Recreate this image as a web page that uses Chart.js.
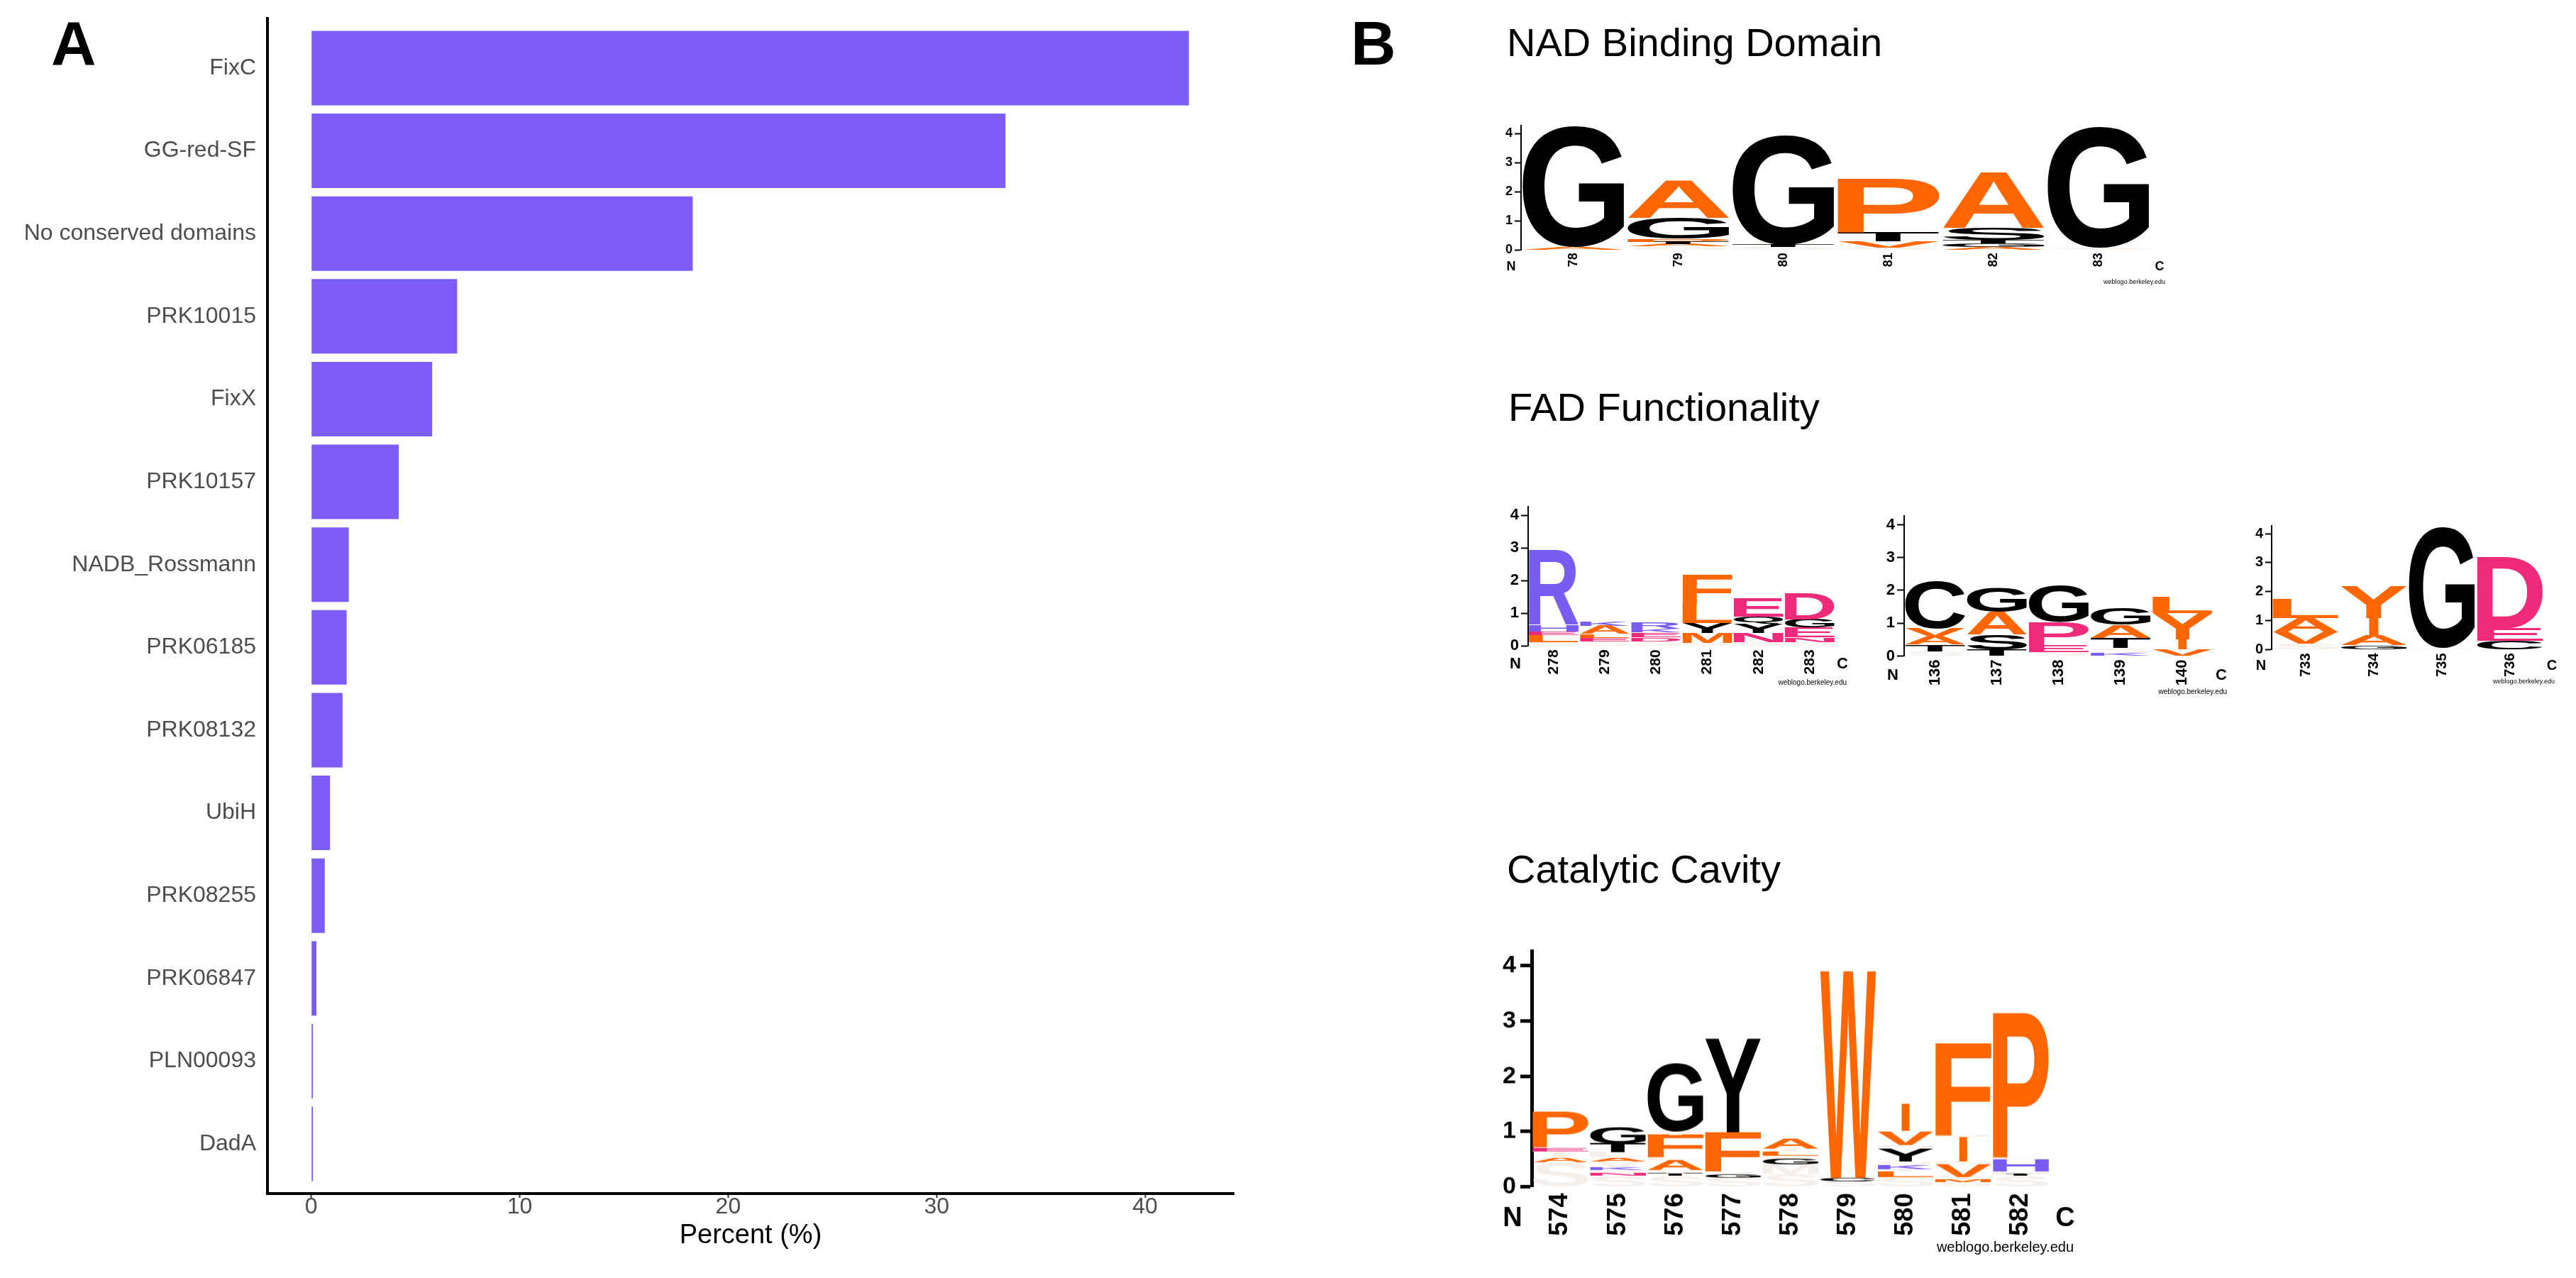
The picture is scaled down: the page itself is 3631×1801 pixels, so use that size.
<!DOCTYPE html>
<html>
<head>
<meta charset="utf-8">
<script src="https://cdn.jsdelivr.net/npm/chart.js@4.4.1/dist/chart.umd.min.js"></script>
<style>
  html, body { margin: 0; padding: 0; background: #fff; }
  body { width: 3631px; height: 1801px; position: relative; overflow: hidden;
         font-family: "Liberation Sans", Arial, sans-serif; }
  .box { position: absolute; }
  .txt { position: absolute; white-space: nowrap; line-height: 1; color: #000; }
  .panel { font-weight: bold; font-size: 88px; }
  .title { font-size: 56px; }
</style>
</head>
<body>
<div class="txt panel" style="left:72px;top:17px;">A</div>
<div class="txt panel" style="left:1904px;top:17px;">B</div>
<div class="txt title" style="left:2124px;top:32px;">NAD Binding Domain</div>
<div class="txt title" style="left:2126px;top:546px;">FAD Functionality</div>
<div class="txt title" style="left:2124px;top:1197px;">Catalytic Cavity</div>

<div class="box" style="left:0;top:0;width:1790px;height:1801px;"><canvas id="bars"></canvas></div>
<div class="box" id="wNad"><canvas id="logoNad"></canvas></div>
<div class="box" id="wFadA"><canvas id="logoFadA"></canvas></div>
<div class="box" id="wFadB"><canvas id="logoFadB"></canvas></div>
<div class="box" id="wFadC"><canvas id="logoFadC"></canvas></div>
<div class="box" id="wCat"><canvas id="logoCat"></canvas></div>

<script>
// ---- panel A data ----
const domains = ['FixC', 'GG-red-SF', 'No conserved domains', 'PRK10015', 'FixX', 'PRK10157',
  'NADB_Rossmann', 'PRK06185', 'PRK08132', 'UbiH', 'PRK08255', 'PRK06847', 'PLN00093', 'DadA'];
const percent = [42.1, 33.3, 18.3, 7.0, 5.8, 4.2, 1.8, 1.7, 1.5, 0.9, 0.65, 0.25, 0.08, 0.08];
const percentTicks = [0, 10, 20, 30, 40];

// ---- panel B data: per column, letters bottom -> top as [residue, bits, group] ----
// group 'fa' = rare residues that print as faint slivers
const bitTicks = [0, 1, 2, 3, 4];

const nadPositions = ['78', '79', '80', '81', '82', '83'];
const nadColumns = [
  [['A', 0.1, 'hy'], ['G', 4.15, 'po']],
  [['S', 0.12, 'fa'], ['A', 0.08, 'hy'], ['T', 0.08, 'po'], ['P', 0.1, 'hy'], ['G', 0.72, 'po'], ['A', 1.3, 'hy']],
  [['S', 0.1, 'fa'], ['T', 0.08, 'po'], ['G', 3.75, 'po']],
  [['S', 0.08, 'fa'], ['V', 0.22, 'hy'], ['T', 0.3, 'po'], ['P', 1.85, 'hy']],
  [['A', 0.1, 'hy'], ['G', 0.12, 'po'], ['T', 0.12, 'po'], ['S', 0.4, 'po'], ['A', 1.9, 'hy']],
  [['S', 0.06, 'fa'], ['G', 4.15, 'po']]
];

const fadAPositions = ['278', '279', '280', '281', '282', '283'];
const fadAColumns = [
  [['S', 0.12, 'fa'], ['L', 0.22, 'hy'], ['E', 0.1, 'ac'], ['H', 0.2, 'ba'], ['R', 2.3, 'ba']],
  [['S', 0.15, 'fa'], ['E', 0.1, 'ac'], ['L', 0.12, 'hy'], ['A', 0.25, 'hy'], ['K', 0.15, 'ba']],
  [['S', 0.15, 'fa'], ['D', 0.12, 'ac'], ['E', 0.15, 'ac'], ['K', 0.12, 'ba'], ['R', 0.18, 'ba']],
  [['S', 0.1, 'fa'], ['M', 0.3, 'hy'], ['Y', 0.3, 'po'], ['L', 0.6, 'hy'], ['F', 0.9, 'hy']],
  [['S', 0.12, 'fa'], ['N', 0.28, 'ac'], ['Y', 0.28, 'po'], ['Q', 0.22, 'po'], ['E', 0.55, 'ac']],
  [['S', 0.12, 'fa'], ['N', 0.15, 'ac'], ['E', 0.3, 'ac'], ['G', 0.25, 'po'], ['D', 0.8, 'ac']]
];

const fadBPositions = ['136', '137', '138', '139', '140'];
const fadBColumns = [
  [['S', 0.15, 'fa'], ['T', 0.2, 'po'], ['A', 0.24, 'hy'], ['V', 0.25, 'hy'], ['C', 1.44, 'po']],
  [['T', 0.2, 'po'], ['S', 0.45, 'po'], ['A', 0.7, 'hy'], ['G', 0.75, 'po']],
  [['S', 0.12, 'fa'], ['E', 0.22, 'ac'], ['P', 0.7, 'ac'], ['G', 1.1, 'po']],
  [['K', 0.1, 'ba'], ['S', 0.15, 'fa'], ['T', 0.3, 'po'], ['A', 0.4, 'hy'], ['G', 0.5, 'po']],
  [['V', 0.2, 'hy'], ['I', 0.3, 'hy'], ['Y', 0.8, 'hy'], ['L', 0.5, 'hy']]
];

const fadCPositions = ['733', '734', '735', '736'];
const fadCColumns = [
  [['S', 0.2, 'fa'], ['V', 0.4, 'hy'], ['A', 0.5, 'hy'], ['L', 0.65, 'hy']],
  [['G', 0.15, 'po'], ['A', 0.35, 'hy'], ['I', 0.6, 'hy'], ['Y', 1.1, 'hy']],
  [['S', 0.05, 'fa'], ['G', 4.15, 'po']],
  [['C', 0.3, 'po'], ['E', 0.45, 'ac'], ['D', 2.45, 'ac']]
];

const catPositions = ['574', '575', '576', '577', '578', '579', '580', '581', '582'];
const catColumns = [
  [['S', 0.44, 'fa'], ['A', 0.09, 'hy'], ['T', 0.11, 'fa'], ['E', 0.07, 'ac'], ['P', 0.65, 'hy']],
  [['S', 0.2, 'fa'], ['N', 0.05, 'ac'], ['Q', 0.05, 'fa'], ['K', 0.05, 'ba'], ['V', 0.11, 'fa'],
   ['A', 0.07, 'hy'], ['L', 0.09, 'fa'], ['T', 0.16, 'po'], ['G', 0.3, 'po']],
  [['S', 0.2, 'fa'], ['T', 0.04, 'po'], ['V', 0.06, 'fa'], ['A', 0.18, 'hy'], ['L', 0.05, 'fa'],
   ['F', 0.41, 'hy'], ['Y', 0.05, 'fa'], ['G', 1.24, 'po']],
  [['S', 0.16, 'fa'], ['G', 0.07, 'po'], ['V', 0.05, 'fa'], ['F', 0.71, 'hy'], ['Y', 1.7, 'po']],
  [['S', 0.23, 'fa'], ['M', 0.18, 'fa'], ['G', 0.1, 'po'], ['V', 0.05, 'fa'], ['L', 0.08, 'hy'],
   ['T', 0.05, 'fa'], ['A', 0.18, 'hy']],
  [['S', 0.1, 'fa'], ['C', 0.06, 'po'], ['W', 3.75, 'hy']],
  [['S', 0.18, 'fa'], ['L', 0.1, 'hy'], ['T', 0.04, 'fa'], ['K', 0.09, 'ba'], ['Q', 0.05, 'fa'],
   ['Y', 0.23, 'po'], ['N', 0.07, 'fa'], ['V', 0.25, 'hy'], ['I', 0.5, 'hy']],
  [['S', 0.09, 'fa'], ['M', 0.05, 'hy'], ['T', 0.04, 'fa'], ['V', 0.23, 'hy'], ['N', 0.05, 'fa'],
   ['I', 0.44, 'hy'], ['Q', 0.04, 'fa'], ['F', 1.68, 'hy']],
  [['S', 0.2, 'fa'], ['T', 0.03, 'po'], ['N', 0.05, 'fa'], ['H', 0.22, 'ba'], ['Q', 0.03, 'fa'], ['P', 2.64, 'hy']]
];

// ---- styles ----
const FONT = '"Liberation Sans", Arial, sans-serif';
const groupColors = { hy: '#ff6600', po: '#000000', ba: '#7b5cf0', ac: '#ee2a7b', fa: '#f6efe9' };
Chart.defaults.font.family = FONT;
Chart.defaults.animation = false;
Chart.defaults.plugins.legend.display = false;
Chart.defaults.plugins.tooltip.enabled = false;

// ---- panel A ----
new Chart(document.getElementById('bars'), {
  type: 'bar',
  data: {
    datasets: [{
      data: domains.map((d, i) => ({ x: percent[i], y: i })),
      backgroundColor: '#7c5cf4',
      borderWidth: 0,
      categoryPercentage: 1,
      barPercentage: 0.9
    }]
  },
  options: {
    indexAxis: 'y',
    responsive: true,
    maintainAspectRatio: false,
    layout: { padding: { top: 26, right: 51, left: 0, bottom: 0 } },
    scales: {
      y: {
        type: 'linear', reverse: true, min: -0.6, max: 13.6, offset: false,
        afterBuildTicks: s => { s.ticks = domains.map((d, i) => ({ value: i })); },
        afterFit: s => { s.width = 377; s.paddingTop = 0; s.paddingBottom = 0; },
        ticks: { callback: v => domains[v], color: '#4d4d4d', font: { size: 32 }, padding: 16, autoSkip: false },
        grid: { offset: false, drawOnChartArea: false, drawTicks: false },
        border: { color: '#000', width: 4 }
      },
      x: {
        type: 'linear', min: -2.1, max: 44.25,
        afterBuildTicks: s => { s.ticks = percentTicks.map(v => ({ value: v })); },
        afterFit: s => { s.height = 119; s.paddingLeft = 0; s.paddingRight = 0; },
        ticks: { color: '#4d4d4d', font: { size: 32, lineHeight: 1 }, padding: -3 },
        grid: { drawOnChartArea: false, drawTicks: true, tickLength: 6, tickColor: '#333', tickWidth: 2 },
        border: { color: '#000', width: 4 },
        title: { display: true, text: 'Percent (%)', color: '#000', font: { size: 38 }, padding: { top: 0, bottom: 37 } }
      }
    }
  }
});

// ---- panel B: sequence logos drawn from stacked bars ----
const glyphCache = {};
function glyphBox(ctx, ch) {
  if (!glyphCache[ch]) {
    ctx.font = 'bold 200px ' + FONT;
    const m = ctx.measureText(ch);
    glyphCache[ch] = { l: m.actualBoundingBoxLeft, r: m.actualBoundingBoxRight,
                       a: m.actualBoundingBoxAscent, d: m.actualBoundingBoxDescent };
  }
  return glyphCache[ch];
}

const letterPlugin = {
  id: 'letters',
  afterDatasetsDraw(chart) {
    const ctx = chart.ctx;
    chart.data.datasets.forEach((ds, k) => {
      chart.getDatasetMeta(k).data.forEach((bar, j) => {
        const ch = ds.letters[j];
        if (!ch) return;
        const p = bar.getProps(['x', 'y', 'base', 'width'], true);
        const h = Math.abs(p.base - p.y);
        if (h < 0.3) return;
        const g = glyphBox(ctx, ch);
        const frac = ch === 'I' ? 0.14 : 0.97;
        const w = p.width * frac;
        ctx.save();
        ctx.font = 'bold 200px ' + FONT;
        ctx.fillStyle = groupColors[ds.groups[j]];
        ctx.translate(p.x - w / 2, Math.min(p.y, p.base));
        ctx.scale(w / (g.l + g.r), h / (g.a + g.d));
        ctx.textAlign = 'left';
        ctx.textBaseline = 'alphabetic';
        ctx.fillText(ch, g.l, g.a);
        ctx.restore();
      });
    });
  },
  afterDraw(chart) {
    const L = chart.options.plugins.letters;
    const a = chart.chartArea;
    const ctx = chart.ctx;
    ctx.save();
    ctx.fillStyle = '#000';
    ctx.textAlign = 'center';
    ctx.textBaseline = 'middle';
    ctx.font = 'bold ' + L.ncFont + 'px ' + FONT;
    ctx.fillText('N', a.left + L.dxN, a.bottom + L.ncDy);
    ctx.fillText('C', a.right + L.dxC, a.bottom + L.ncDy);
    ctx.font = L.creditFont + 'px ' + FONT;
    ctx.textAlign = 'right';
    ctx.fillText('weblogo.berkeley.edu', a.right + L.creditDx, a.bottom + L.creditDy);
    ctx.restore();
  }
};

function makeLogo(wrapId, canvasId, positions, columns, L) {
  const unit = (L.zero - L.y4) / 4;
  const ymax = 4.27;
  const top = L.zero - ymax * unit;
  const padTop = 30;
  const x0 = L.left - L.axisBox;
  const y0 = top - padTop;
  const wrap = document.getElementById(wrapId);
  wrap.style.left = x0 + 'px';
  wrap.style.top = y0 + 'px';
  wrap.style.width = (L.right - x0 + L.padR) + 'px';
  wrap.style.height = (L.zero - y0 + L.xBox) + 'px';

  const depth = Math.max(...columns.map(c => c.length));
  const datasets = [];
  for (let k = 0; k < depth; k++) {
    datasets.push({
      data: columns.map(c => (c[k] ? c[k][1] : 0)),
      letters: columns.map(c => (c[k] ? c[k][0] : '')),
      groups: columns.map(c => (c[k] ? c[k][2] : '')),
      backgroundColor: 'rgba(0,0,0,0)',
      borderWidth: 0,
      categoryPercentage: 1,
      barPercentage: 1,
      stack: 'logo'
    });
  }

  new Chart(document.getElementById(canvasId), {
    type: 'bar',
    data: { labels: positions, datasets },
    options: {
      responsive: true,
      maintainAspectRatio: false,
      layout: { padding: { top: padTop, right: L.padR, left: 0, bottom: 0 } },
      plugins: { letters: L },
      scales: {
        x: {
          stacked: true,
          afterFit: s => { s.height = L.xBox; s.paddingLeft = 0; s.paddingRight = 0; },
          ticks: { autoSkip: false, minRotation: 90, maxRotation: 90, color: '#000',
                   font: { size: L.labelFont, weight: 'bold', lineHeight: 1 }, padding: L.labPad },
          grid: { display: false, drawTicks: false },
          border: { display: false }
        },
        y: {
          stacked: true, min: 0, max: ymax,
          afterBuildTicks: s => { s.ticks = bitTicks.map(v => ({ value: v })); },
          afterFit: s => { s.width = L.axisBox; s.paddingTop = 0; s.paddingBottom = 0; },
          ticks: { color: '#000', font: { size: L.tickFont, weight: 'bold', lineHeight: 1 }, padding: L.tickPad },
          grid: { drawOnChartArea: false, drawTicks: true, tickLength: L.tickLen, tickColor: '#000', tickWidth: L.axisW },
          border: { color: '#000', width: L.axisW }
        }
      }
    },
    plugins: [letterPlugin]
  });
}

makeLogo('wNad', 'logoNad', nadPositions, nadColumns, {
  left: 2144, right: 3032, zero: 352, y4: 187.8, axisBox: 50, padR: 40, xBox: 60,
  tickFont: 18, labelFont: 18, tickLen: 9, tickPad: 3, axisW: 2, labPad: 4,
  ncFont: 18, ncDy: 24, dxN: -14, dxC: 12, creditFont: 9, creditDx: 20, creditDy: 45 });

makeLogo('wFadA', 'logoFadA', fadAPositions, fadAColumns, {
  left: 2154, right: 2587, zero: 910, y4: 726, axisBox: 50, padR: 30, xBox: 70,
  tickFont: 22, labelFont: 21, tickLen: 10, tickPad: 3, axisW: 2, labPad: 5,
  ncFont: 22, ncDy: 26, dxN: -18, dxC: 10, creditFont: 10, creditDx: 16, creditDy: 52 });

makeLogo('wFadB', 'logoFadB', fadBPositions, fadBColumns, {
  left: 2684, right: 3120, zero: 924, y4: 739, axisBox: 50, padR: 30, xBox: 70,
  tickFont: 22, labelFont: 22, tickLen: 10, tickPad: 3, axisW: 2, labPad: 5,
  ncFont: 22, ncDy: 27, dxN: -16, dxC: 11, creditFont: 10, creditDx: 19, creditDy: 51 });

makeLogo('wFadC', 'logoFadC', fadCPositions, fadCColumns, {
  left: 3202, right: 3586, zero: 915.5, y4: 752, axisBox: 50, padR: 30, xBox: 70,
  tickFont: 20, labelFont: 20, tickLen: 9, tickPad: 3, axisW: 2, labPad: 5,
  ncFont: 20, ncDy: 23, dxN: -15, dxC: 11, creditFont: 9, creditDx: 15, creditDy: 45 });

makeLogo('wCat', 'logoCat', catPositions, catColumns, {
  left: 2159, right: 2889, zero: 1672, y4: 1361.4, axisBox: 80, padR: 50, xBox: 110,
  tickFont: 34, labelFont: 36, tickLen: 16, tickPad: 6, axisW: 5, labPad: 9,
  ncFont: 38, ncDy: 45, dxN: -27, dxC: 22, creditFont: 20, creditDx: 34, creditDy: 86 });
</script>
</body>
</html>
